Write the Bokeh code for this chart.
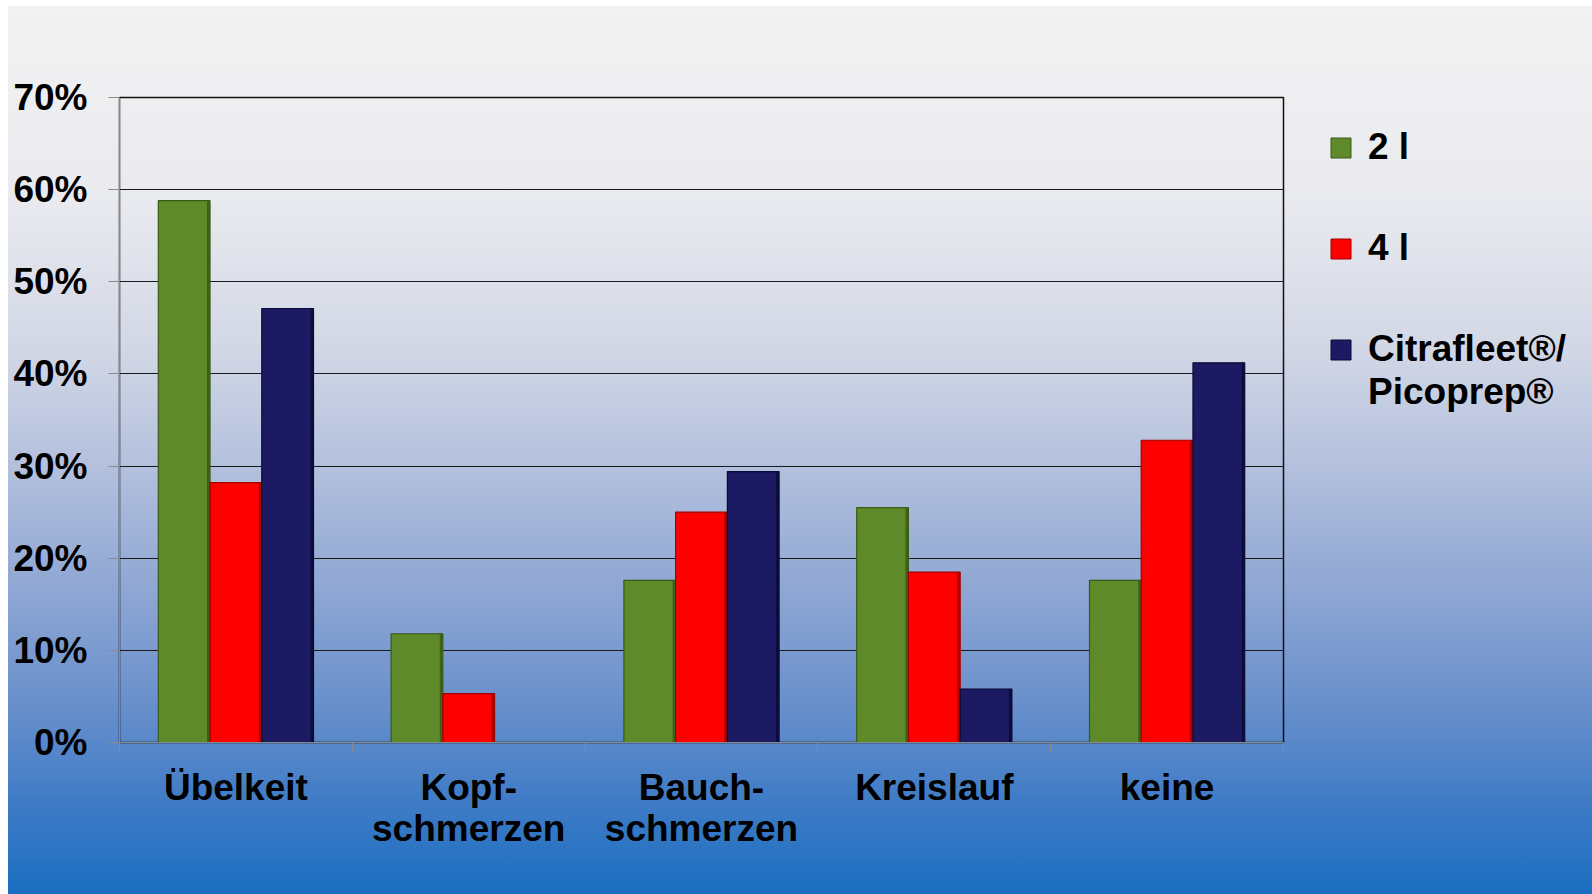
import numpy as np
from bokeh.plotting import figure
from bokeh.layouts import row
from bokeh.models import ColumnDataSource, FixedTicker, Legend, LegendItem, Range1d
from bokeh.embed import file_html
from bokeh.resources import INLINE

# --- data -------------------------------------------------------------
categories = ["Übelkeit", "Kopf-\nschmerzen", "Bauch-\nschmerzen", "Kreislauf", "keine"]
series_names = ["2 l", "4 l", "Citrafleet®/"]
series_name_cont = "Picoprep®"
values_2l = [58.8, 11.8, 17.6, 25.5, 17.6]
values_4l = [28.2, 5.3, 25.0, 18.5, 32.8]
values_citra = [47.1, 0.0, 29.4, 5.8, 41.2]
y_ticks = [0, 10, 20, 30, 40, 50, 60, 70]

series_values = [values_2l, values_4l, values_citra]
fills = ["#5e8a29", "#ff0000", "#1b1a62"]
edges = ["#3a5a16", "#a00000", "#0b0b35"]

FONT = "Liberation Sans"
FONT_SIZE = "37px"
BAR_W = 1 / 4.5          # three bars plus 150% gap per category
offsets = [-BAR_W, 0.0, BAR_W]

BACKGROUND = {"background": "linear-gradient(to bottom, #f2f2f2 0%, #e9eaef 22%, "
                            "#d3d8e6 38%, #b3c0dd 52%, #8ea6d3 66%, #6b91cc 78%, "
                            "#3e7bc6 90%, #1a6ec0 100%)"}

p = figure(width=1285, height=888, output_backend="svg", toolbar_location=None,
           x_range=Range1d(0, len(categories)), y_range=Range1d(0, 70),
           min_border_left=111, min_border_right=10,
           min_border_top=91, min_border_bottom=152,
           margin=(6, 0, 0, 8))
p.background_fill_color = None
p.border_fill_color = None
p.outline_line_color = "#111111"
p.outline_line_width = 1.5
p.styles = BACKGROUND

centers = np.arange(len(categories)) + 0.5
for vals, off, fc, ec in zip(series_values, offsets, fills, edges):
    vals = np.asarray(vals)
    keep = vals > 0
    src = ColumnDataSource(dict(x=centers[keep] + off, top=vals[keep]))
    p.vbar(x="x", top="top", bottom=0, width=BAR_W, source=src,
           fill_color=fc, line_color=ec, line_width=1.2)
    # darker bevel strip on the right edge of each bar
    strip = ColumnDataSource(dict(x=centers[keep] + off + BAR_W / 2 - 0.007,
                                  top=vals[keep]))
    p.vbar(x="x", top="top", bottom=0, width=0.012, source=strip,
           fill_color=ec, line_color=None, fill_alpha=0.85)

# --- axes -------------------------------------------------------------
p.yaxis.ticker = FixedTicker(ticks=y_ticks)
p.yaxis.major_label_overrides = {t: f"{t}%" for t in y_ticks}
p.yaxis.axis_line_color = "#8a8a8a"
p.yaxis.major_tick_line_color = "#8a8a8a"
p.yaxis.major_tick_out = 11
p.yaxis.major_tick_in = 0
p.yaxis.minor_tick_line_color = None
p.yaxis.major_label_standoff = 21

p.xaxis.ticker = FixedTicker(ticks=list(centers),
                             minor_ticks=list(range(len(categories) + 1)))
p.xaxis.major_label_overrides = {float(c): lab for c, lab in zip(centers, categories)}
p.xaxis.axis_line_color = "#8a8a8a"
p.xaxis.major_tick_line_color = None
p.xaxis.minor_tick_line_color = "#8a8a8a"
p.xaxis.minor_tick_out = 10
p.xaxis.minor_tick_in = 0
p.xaxis.major_label_standoff = 14
p.xaxis.major_label_text_line_height = 1.0

for ax in (p.xaxis, p.yaxis):
    ax.major_label_text_font = FONT
    ax.major_label_text_font_style = "bold"
    ax.major_label_text_font_size = FONT_SIZE
    ax.major_label_text_color = "#000000"

p.xgrid.grid_line_color = None
p.ygrid.grid_line_color = "#1a1a1a"
p.ygrid.grid_line_width = 1
p.ygrid.ticker = FixedTicker(ticks=y_ticks)

# --- legend panel -----------------------------------------------------
lp = figure(width=299, height=888, output_backend="svg", toolbar_location=None,
            x_range=Range1d(0, 1), y_range=Range1d(0, 1),
            min_border=0, margin=(6, 0, 0, 0))
lp.axis.visible = False
lp.grid.visible = False
lp.outline_line_color = None
lp.background_fill_color = None
lp.border_fill_color = None
lp.styles = BACKGROUND

# swatch renderers: one off-screen entry each so the legend has a glyph to draw
swatches = [lp.vbar(x=[5], top=[5], bottom=[4], width=0.1, fill_color=fc, line_color=ec)
            for fc, ec in zip(fills, edges)]
blank = lp.vbar(x=[5], top=[5], bottom=[4], width=0.1, fill_alpha=0, line_alpha=0)


def styled_legend(items, location):
    lg = Legend(items=items, location=location)
    lg.glyph_width = 25
    lg.glyph_height = 25
    lg.label_height = 42
    lg.spacing = 59
    lg.label_standoff = 15
    lg.padding = 0
    lg.margin = 0
    lg.border_line_color = None
    lg.background_fill_alpha = 0
    lg.label_text_font = FONT
    lg.label_text_font_style = "bold"
    lg.label_text_font_size = FONT_SIZE
    lg.label_text_color = "#000000"
    return lg


lp.add_layout(styled_legend([LegendItem(label=n, renderers=[r])
                             for n, r in zip(series_names, swatches)], (35, 372)), "center")
lp.add_layout(styled_legend([LegendItem(label=series_name_cont, renderers=[blank])],
                            (35, 329)), "center")

layout = row(p, lp, spacing=0)
open("out.html", "w").write(file_html(layout, INLINE))
